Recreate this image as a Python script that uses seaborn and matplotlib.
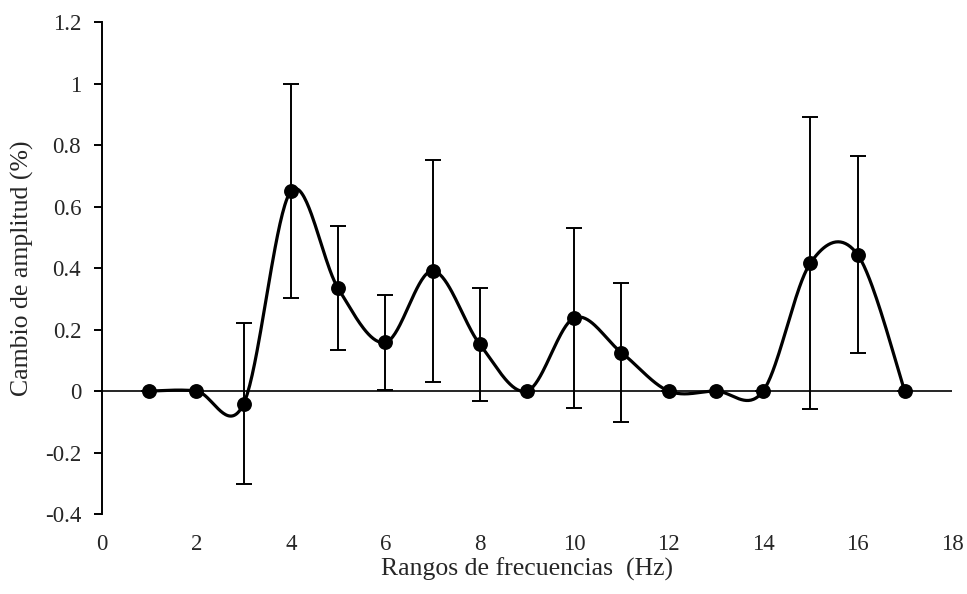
import numpy as np
import pandas as pd
import matplotlib
matplotlib.use("Agg")
import matplotlib.pyplot as plt
import seaborn as sns

# Data
freq = [1, 2, 3, 4, 5, 6, 7, 8, 9, 10, 11, 12, 13, 14, 15, 16, 17]
amp = [0.0, 0.0, -0.041, 0.650, 0.334, 0.158, 0.391, 0.152, 0.0, 0.238, 0.125, 0.0, 0.0, 0.0, 0.416, 0.444, 0.0]
err = [0.0, 0.0, 0.263, 0.348, 0.202, 0.154, 0.360, 0.184, 0.0, 0.292, 0.225, 0.0, 0.0, 0.0, 0.475, 0.320, 0.0]
xticks = [0, 2, 4, 6, 8, 10, 12, 14, 16, 18]
yticks = [-0.4, -0.2, 0, 0.2, 0.4, 0.6, 0.8, 1.0, 1.2]
ytick_labels = ["-0.4", "-0.2", "0", "0.2", "0.4", "0.6", "0.8", "1", "1.2"]

sns.set_theme(style="white")
plt.rcParams['font.family'] = ['Liberation Serif', 'DejaVu Serif']

# Excel-like smoothing (Catmull-Rom / cubic Bezier)
def smooth(xs, ys, n=40):
    xs = np.asarray(xs, float); ys = np.asarray(ys, float)
    P = np.column_stack([xs, ys])
    out = []
    for i in range(len(P) - 1):
        p0 = P[i - 1] if i > 0 else P[i]
        p1 = P[i]; p2 = P[i + 1]
        p3 = P[i + 2] if i + 2 < len(P) else P[i + 1]
        c1 = p1 + (p2 - p0) / 6.0
        c2 = p2 - (p3 - p1) / 6.0
        t = np.linspace(0, 1, n)[:, None]
        seg = ((1 - t) ** 3) * p1 + 3 * ((1 - t) ** 2) * t * c1 + 3 * (1 - t) * t ** 2 * c2 + t ** 3 * p2
        out.append(seg if i == 0 else seg[1:])
    S = np.vstack(out)
    return S[:, 0], S[:, 1]

sx, sy = smooth(freq, amp)
curve = pd.DataFrame({"x": sx, "y": sy})
pts = pd.DataFrame({"x": freq, "y": amp})

fig = plt.figure(figsize=(9.67, 5.94), dpi=100)
ax = fig.add_axes([0.1055, 0.1347, 0.879, 0.828])

ax.axhline(0, color="black", lw=1.2, zorder=1)
ax.errorbar(freq, amp, yerr=err, fmt="none", ecolor="black", elinewidth=1.4,
            capsize=5.5, capthick=1.4, zorder=2)
sns.lineplot(data=curve, x="x", y="y", sort=False, estimator=None, color="black",
             lw=2.3, ax=ax, zorder=3)
sns.scatterplot(data=pts, x="x", y="y", color="black", s=115, edgecolor="black",
                linewidth=0, ax=ax, zorder=4)

ax.set_xlim(0, 18)
ax.set_ylim(-0.4, 1.2)
ax.set_xticks(xticks)
ax.set_xticklabels([str(v) for v in xticks])
ax.set_yticks(yticks)
ax.set_yticklabels(ytick_labels)
for s in ["top", "right", "bottom"]:
    ax.spines[s].set_visible(False)
ax.spines["left"].set_color("black")
ax.spines["left"].set_linewidth(1.4)
ax.tick_params(axis="y", direction="out", length=6, width=1.4, color="black",
               labelsize=16.5, pad=9, left=True)
ax.tick_params(axis="x", length=0, labelsize=16.5, pad=14.5)
ax.set_xlabel("Rangos de frecuencias  (Hz)", fontsize=18.5, labelpad=2)
ax.set_ylabel("Cambio de amplitud (%)", fontsize=18.5, labelpad=8)
ax.grid(False)

fig.savefig("out.png", dpi=100)
